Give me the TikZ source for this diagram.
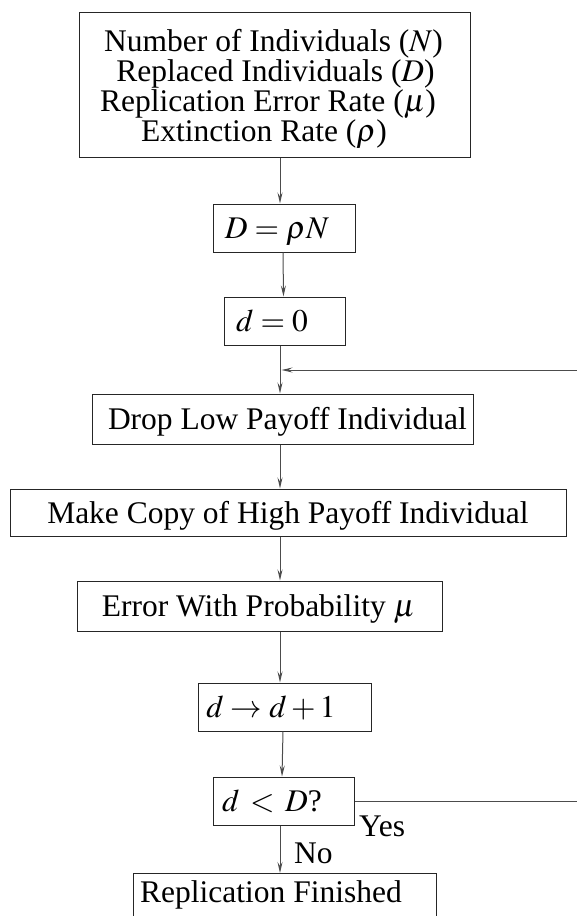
\documentclass[tikz,border=0pt]{standalone}
\usepackage{mathptmx}
\usepackage[no-math]{fontspec}
\setmainfont{Liberation Serif}
\newfontfamily\tms{Liberation Serif}
\usetikzlibrary{arrows.meta}
\tikzset{
  box/.style={draw=black!85, line width=1pt, inner sep=0pt},
  txt/.style={inner sep=0pt, font=\tms\fontsize{31.5}{30}\selectfont, align=center},
  tline/.style={txt, anchor=base, text height=21pt, text depth=6pt},
  flow/.style={draw=black!70, line width=1pt, -{Stealth[length=11pt,width=5pt,inset=4pt]}},
  plain/.style={draw=black!70, line width=1pt}
}
\begin{document}
\begin{tikzpicture}[x=1pt,y=-1pt]
\useasboundingbox (0,0) rectangle (576,916);
% boxes
\node[box, minimum width=391pt, minimum height=145pt] (b1) at (274.5,84.5) {};
\node[box, minimum width=142pt, minimum height=48pt] (b2) at (284,228) {};
\node[box, minimum width=121pt, minimum height=48pt] (b3) at (284.5,321) {};
\node[box, minimum width=381pt, minimum height=50pt] (b4) at (282.5,419) {};
\node[box, minimum width=556pt, minimum height=47pt] (b5) at (288,512.5) {};
\node[box, minimum width=365pt, minimum height=50pt] (b6) at (259.5,606) {};
\node[box, minimum width=173pt, minimum height=48pt] (b7) at (284.5,707) {};
\node[box, minimum width=141pt, minimum height=48pt] (b8) at (283.5,801) {};
\node[box, minimum width=303pt, minimum height=80pt, anchor=north west] (b9) at (133,873) {};
% texts
\node[tline] (t1a) at (273.5,51) {Number of Individuals ($N$)};
\node[tline] (t1b) at (275.5,81) {Replaced Individuals ($D$)};
\node[tline] (t1c) at (268,111) {Replication Error Rate ($\mu$)};
\node[tline] (t1d) at (264,141) {Extinction Rate ($\rho$)};
\node[txt, anchor=base] (t2) at (277,238.5) {$D=\rho N$};
\node[txt, anchor=base] (t3) at (272,331.5) {$d=0$};
\node[txt, anchor=base] (t4) at (287.5,429.5) {Drop Low Payoff Individual};
\node[txt, anchor=base] (t5) at (288,523) {Make Copy of High Payoff Individual};
\node[txt, anchor=base] (t6) at (258.5,616.5) {Error With Probability $\mu$};
\node[txt, anchor=base] (t7) at (271,717.5) {$d\rightarrow d+1$};
\node[txt, anchor=base] (t8) at (272,811.5) {$d\,<\,D$?};
\node[txt, anchor=base west] (t9) at (140,902) {Replication Finished};
\node[txt, anchor=base west] (yes) at (359,836) {Yes};
\node[txt, anchor=base west] (no) at (294,863) {No};
% connectors
\coordinate (m3) at (280,370);
\coordinate (r1) at (578,801);
\coordinate (r2) at (578,370);
\draw[flow] (b1.south -| m3) -- (b2.north -| m3);
\draw[flow] ([xshift=-1pt]b2.south) -- ([xshift=-1pt]b3.north);
\draw[plain] (b3.south -| m3) -- (m3);
\draw[flow] (m3) -- (b4.north -| m3);
\draw[flow] (r2) -- ([xshift=1.5pt]m3);
\draw[plain] (b8.east) -- (r1) -- (r2);
\draw[flow] (b4.south -| m3) -- (b5.north -| m3);
\draw[flow] (b5.south -| m3) -- (b6.north -| m3);
\draw[flow] (b6.south -| m3) -- (b7.north -| m3);
\draw[flow] ([xshift=-1.5pt]b7.south) -- ([xshift=-1.5pt]b8.north);
\draw[flow] (b8.south -| m3) -- (b9.north -| m3);
\end{tikzpicture}
\end{document}
